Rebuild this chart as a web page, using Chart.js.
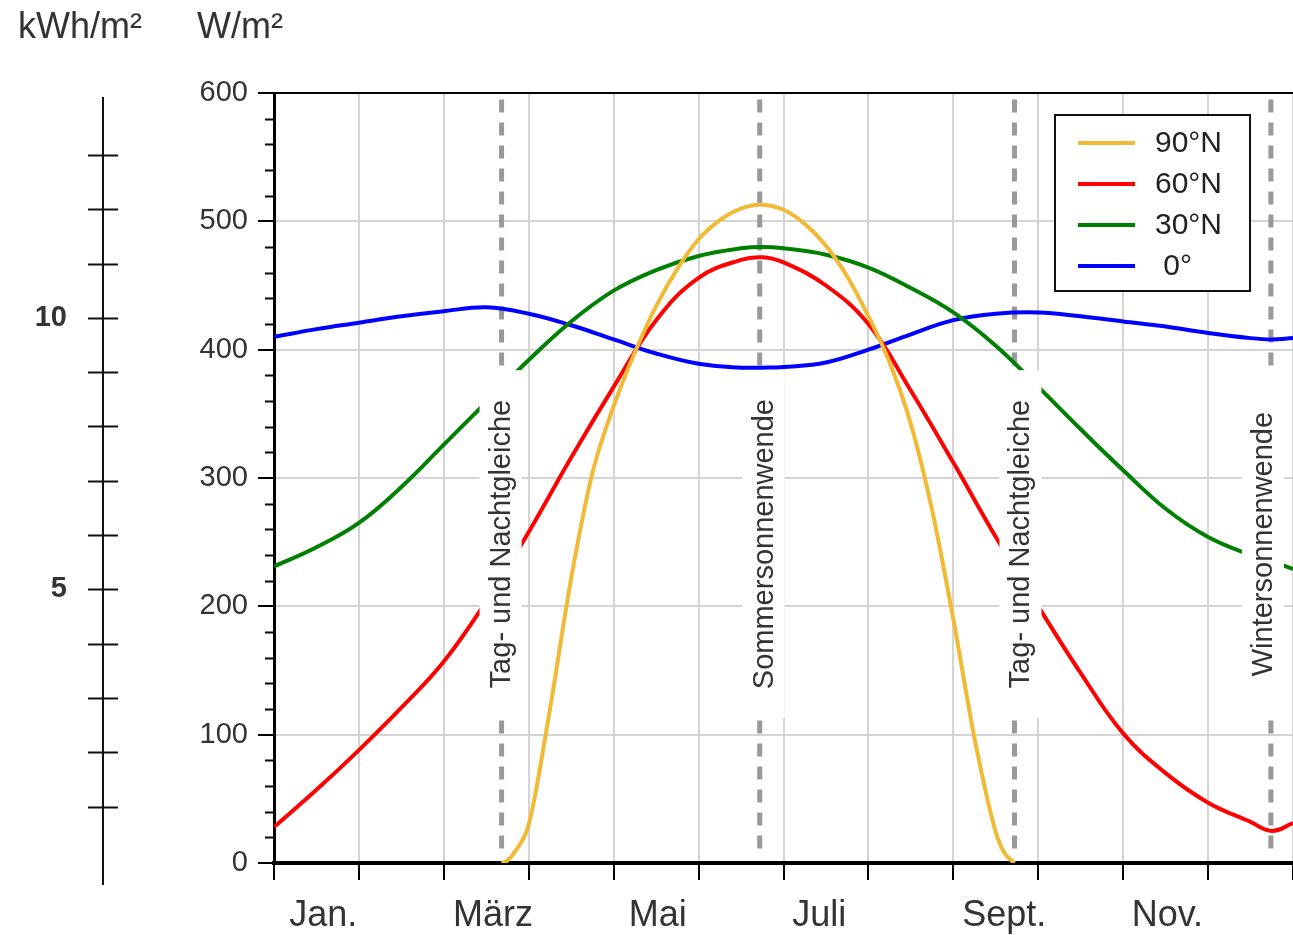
<!DOCTYPE html>
<html>
<head>
<meta charset="utf-8">
<script src="https://cdn.jsdelivr.net/npm/chart.js@4.4.1/dist/chart.umd.min.js"></script>
<style>
  body { margin: 0; background: #fff; }
  canvas { display: block; }
</style>
</head>
<body>
<canvas id="chart" width="1293" height="935"></canvas>
<script>
// x values are months since 1 Jan (0 = Jan 1, 12 = Dec 31)
const months = [0, 0.5, 1, 1.5, 2, 2.5, 3, 3.5, 4, 4.5, 5, 5.5, 5.75, 6, 6.5, 7, 7.5, 8, 8.5, 9, 9.5, 10, 10.5, 11, 11.5, 11.75, 12];
const lat0 = [410, 416, 421, 426, 430, 433, 428, 419, 408, 397, 389, 386, 386, 386.5, 390, 400, 412, 423, 428, 429, 426, 422, 418, 413, 409, 408, 409];
const lat30 = [231, 246, 265, 293, 326, 359, 392, 422, 446, 462, 473, 479, 480, 479, 474, 464, 448, 429, 403, 371, 338, 306, 276, 254, 240, 235, 229];
const lat60 = [28, 57, 88, 121, 157, 204, 258, 316, 371, 423, 456, 470, 472, 468, 450, 420, 368, 312, 254, 200, 148, 101, 70, 47, 32, 25, 31];

// polar day only between the equinoxes
const polarMonths = [2.68, 2.75, 2.85, 3, 3.25, 3.5, 3.75, 4, 4.25, 4.5, 4.75, 5, 5.25, 5.5, 5.72, 6, 6.25, 6.5, 6.75, 7, 7.25, 7.5, 7.75, 8, 8.25, 8.5, 8.6, 8.72];
const lat90 = [0, 2, 10, 30, 120, 222, 304, 356, 398, 434, 463, 486, 501, 510, 513, 509, 498, 481, 457, 426, 390, 342, 275, 190, 97, 24, 8, 0];

const seriesLabels = ['90°N', '60°N', '30°N', ' 0°'];
const seriesColors = ['#f2b935', '#ff0000', '#008000', '#0000ff'];

const monthTickLabels = ['Jan.', 'März', 'Mai', 'Juli', 'Sept.', 'Nov.'];
const monthLabelAt = [0.58, 2.58, 4.52, 6.42, 8.6, 10.52];

const eventMonths = [2.68, 5.72, 8.72, 11.74];
const eventLabels = ['Tag- und Nachtgleiche', 'Sommersonnenwende', 'Tag- und Nachtgleiche', 'Wintersonnenwende'];

const FONT = "'Liberation Sans', Arial, sans-serif";
const TEXT = '#333';

function pts(xs, ys) {
    return xs.map((x, i) => ({ x: x, y: ys[i] }));
}

const datasets = [
    { label: seriesLabels[0], data: pts(polarMonths, lat90), cubicInterpolationMode: 'monotone' },
    { label: seriesLabels[1], data: pts(months, lat60), tension: 0.4 },
    { label: seriesLabels[2], data: pts(months, lat30), tension: 0.4 },
    { label: seriesLabels[3], data: pts(months, lat0), tension: 0.4 }
].map((d, i) => Object.assign(d, {
    borderColor: seriesColors[i],
    backgroundColor: seriesColors[i],
    borderWidth: 4,
    pointRadius: 0,
    fill: false
}));

// dashed event lines under the curves, labels + legend above them
const overlay = {
    id: 'overlay',
    beforeDatasetsDraw(chart) {
        const ctx = chart.ctx, xs = chart.scales.x, ys = chart.scales.y;
        ctx.save();
        ctx.strokeStyle = '#999';
        ctx.lineWidth = 5;
        ctx.setLineDash([13, 10]);
        eventMonths.forEach(m => {
            const x = xs.getPixelForValue(m);
            ctx.beginPath();
            ctx.moveTo(x, ys.getPixelForValue(595));
            ctx.lineTo(x, ys.getPixelForValue(5));
            ctx.stroke();
        });
        ctx.restore();
    },
    afterDatasetsDraw(chart) {
        const ctx = chart.ctx, xs = chart.scales.x, ys = chart.scales.y;
        const shift = [-1, 4, 6, -8];
        const top = ys.getPixelForValue(384), bottom = ys.getPixelForValue(113);
        ctx.save();
        eventMonths.forEach((m, i) => {
            const cx = xs.getPixelForValue(m) + shift[i];
            ctx.fillStyle = '#fff';
            ctx.fillRect(cx - 21, top, 42, bottom - top);
            ctx.save();
            ctx.translate(cx + 1, (top + bottom) / 2);
            ctx.rotate(-Math.PI / 2);
            ctx.fillStyle = TEXT;
            ctx.font = '29px ' + FONT;
            ctx.textAlign = 'center';
            ctx.textBaseline = 'middle';
            ctx.fillText(eventLabels[i], 0, 0);
            ctx.restore();
        });

        // legend box
        const a = chart.chartArea;
        const bx = a.right - 238, by = a.top + 22, bw = 195, bh = 176;
        ctx.fillStyle = '#fff';
        ctx.fillRect(bx, by, bw, bh);
        ctx.strokeStyle = '#111';
        ctx.lineWidth = 2;
        ctx.strokeRect(bx, by, bw, bh);
        chart.data.datasets.forEach((d, i) => {
            const y = by + 28 + i * 41;
            ctx.strokeStyle = d.borderColor;
            ctx.lineWidth = 4;
            ctx.beginPath();
            ctx.moveTo(bx + 23, y);
            ctx.lineTo(bx + 80, y);
            ctx.stroke();
            ctx.fillStyle = '#222';
            ctx.font = '30px ' + FONT;
            ctx.textAlign = 'left';
            ctx.textBaseline = 'middle';
            ctx.fillText(d.label, bx + 100, y + 1);
        });
        ctx.restore();
    },
    afterDraw(chart) {
        const ctx = chart.ctx, ys = chart.scales.y, k = chart.scales.yk, a = chart.chartArea;
        ctx.save();
        // minor ticks on the W/m² axis
        ctx.strokeStyle = '#000';
        ctx.lineWidth = 2;
        ys.ticks.forEach(t => {
            if (t.value % 100 !== 0) {
                const y = Math.round(ys.getPixelForValue(t.value)) + 0.5;
                ctx.beginPath();
                ctx.moveTo(a.left - 9, y);
                ctx.lineTo(a.left, y);
                ctx.stroke();
            }
        });
        // kWh/m² axis line with crossing ticks
        const ax = k.right - 17;
        ctx.strokeStyle = '#111';
        ctx.beginPath();
        ctx.moveTo(ax, a.top + 4);
        ctx.lineTo(ax, a.bottom + 22);
        ctx.stroke();
        k.ticks.forEach(t => {
            const y = Math.round(k.getPixelForValue(t.value)) + 0.5;
            ctx.beginPath();
            ctx.moveTo(ax - 15, y);
            ctx.lineTo(ax + 15, y);
            ctx.stroke();
        });
        // unit headers
        ctx.fillStyle = TEXT;
        ctx.font = '36px ' + FONT;
        ctx.textBaseline = 'alphabetic';
        ctx.fillText('kWh/m²', 18, 38);
        ctx.fillText('W/m²', 197, 38);
        ctx.restore();
    }
};

new Chart(document.getElementById('chart'), {
    type: 'line',
    data: { datasets: datasets },
    options: {
        responsive: false,
        animation: false,
        devicePixelRatio: 1,
        layout: { padding: { top: 93, left: 0, right: 0, bottom: 0 } },
        plugins: { legend: { display: false }, tooltip: { enabled: false } },
        scales: {
            x: {
                type: 'linear',
                min: 0,
                max: 12,
                afterBuildTicks: s => {
                    const t = [];
                    for (let m = 0; m <= 12; m++) t.push({ value: m });
                    monthLabelAt.forEach(v => t.push({ value: v }));
                    s.ticks = t.sort((p, q) => p.value - q.value);
                },
                afterFit: s => { s.height = 72; s.paddingLeft = 0; s.paddingRight = 0; },
                ticks: {
                    autoSkip: false,
                    maxRotation: 0,
                    padding: 14,
                    color: TEXT,
                    font: { size: 36, family: FONT },
                    callback: v => {
                        const i = monthLabelAt.indexOf(v);
                        return i >= 0 ? monthTickLabels[i] : '';
                    }
                },
                grid: {
                    color: c => Number.isInteger(c.tick.value) ? '#d4d4d4' : 'rgba(0,0,0,0)',
                    lineWidth: 2,
                    tickColor: c => Number.isInteger(c.tick.value) ? '#000' : 'rgba(0,0,0,0)',
                    tickLength: 17,
                    tickWidth: 2
                },
                border: { display: true, color: '#000', width: 4 }
            },
            y: {
                min: 0,
                max: 600,
                weight: 0,
                afterFit: s => { s.width = 154; },
                ticks: {
                    stepSize: 20,
                    maxTicksLimit: 1000,
                    autoSkip: false,
                    padding: 10,
                    color: TEXT,
                    font: { size: 29, family: FONT },
                    callback: v => v % 100 === 0 ? v : ''
                },
                grid: {
                    color: c => c.tick.value === 600 ? '#000' : (c.tick.value % 100 === 0 ? '#d4d4d4' : 'rgba(0,0,0,0)'),
                    lineWidth: 2,
                    tickColor: c => c.tick.value % 100 === 0 ? '#000' : 'rgba(0,0,0,0)',
                    tickLength: 16,
                    tickWidth: 2
                },
                border: { display: true, color: '#000', width: 3 }
            },
            yk: {
                position: 'left',
                weight: 10,
                min: -0.04,
                max: 14.14,
                afterFit: s => { s.width = 120; },
                afterBuildTicks: s => { s.ticks = s.ticks.filter(t => Number.isInteger(t.value) && t.value >= 0 && t.value <= 13); },
                ticks: {
                    stepSize: 1,
                    maxTicksLimit: 1000,
                    autoSkip: false,
                    padding: 53,
                    color: TEXT,
                    font: { size: 29, family: FONT, weight: 'bold' },
                    callback: v => v % 5 === 0 ? v : ''
                },
                grid: { display: false, drawTicks: false },
                border: { display: false }
            }
        }
    },
    plugins: [overlay]
});
</script>
</body>
</html>
